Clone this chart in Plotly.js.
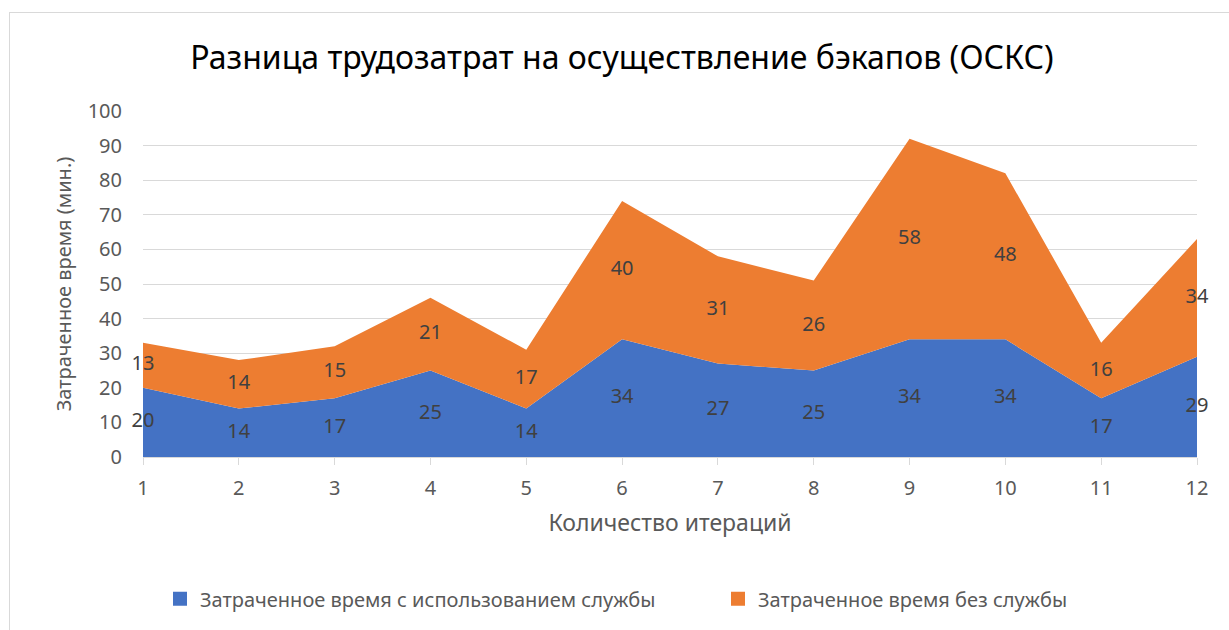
<!DOCTYPE html>
<html>
<head>
<meta charset="utf-8">
<script src="https://cdn.plot.ly/plotly-3.0.1.min.js"></script>
<style>
html,body{margin:0;padding:0;background:#fff;overflow:hidden;}
#chart{position:absolute;left:0;top:0;width:1229px;height:630px;}
#frame{position:absolute;left:9px;top:12px;width:1300px;height:700px;border:1px solid #d9d9d9;pointer-events:none;}
</style>
</head>
<body>
<div id="chart"></div>
<div id="frame"></div>
<script>
const iterations = [1,2,3,4,5,6,7,8,9,10,11,12];
const withService = [20,14,17,25,14,34,27,25,34,34,17,29];
const withoutService = [13,14,15,21,17,40,31,26,58,48,16,34];
const seriesNames = ['Затраченное время с использованием службы','Затраченное время без службы'];
const colors = ['#4472C4','#ED7D31'];

const F = 'Noto Sans, Open Sans, sans-serif';

const midA = withService.map(v => v/2);
const midB = withService.map((v,i) => v + withoutService[i]/2);

const traces = [
  {x: iterations, y: withService, name: seriesNames[0], type:'scatter', mode:'lines', stackgroup:'one',
   line:{width:0, color:colors[0]}, fillcolor:colors[0], hoverinfo:'y', showlegend:false},
  {x: iterations, y: withoutService, name: seriesNames[1], type:'scatter', mode:'lines', stackgroup:'one',
   line:{width:0, color:colors[1]}, fillcolor:colors[1], hoverinfo:'y', showlegend:false},
  {x: iterations, y: midA, text: withService.map(String), type:'scatter', mode:'text', showlegend:false,
   textfont:{family:F, size:20, color:'#404040'}, textposition:'middle center', hoverinfo:'skip', cliponaxis:false},
  {x: iterations, y: midB, text: withoutService.map(String), type:'scatter', mode:'text', showlegend:false,
   textfont:{family:F, size:20, color:'#404040'}, textposition:'middle center', hoverinfo:'skip', cliponaxis:false},
  {x:[null], y:[null], name: seriesNames[0], type:'scatter', mode:'markers', legend:'legend',
   marker:{symbol:'square', size:14, color:colors[0]}, showlegend:true},
  {x:[null], y:[null], name: seriesNames[1], type:'scatter', mode:'markers', legend:'legend2',
   marker:{symbol:'square', size:14, color:colors[1]}, showlegend:true}
];

const legendBase = {orientation:'h', xanchor:'left', y:-0.41, yanchor:'middle',
  font:{family:F, size:20, color:'#595959'}, bgcolor:'rgba(0,0,0,0)'};

const layout = {
  width:1229, height:630,
  margin:{l:143, r:32, t:111, b:173},
  paper_bgcolor:'#fff', plot_bgcolor:'#fff',
  font:{family:F, color:'#595959'},
  title:{text:'Разница трудозатрат на осуществление бэкапов (ОСКС)', font:{family:F, size:32, color:'#000'},
    x:0.506, xref:'container', xanchor:'center', y:0.908, yref:'container', yanchor:'middle'},
  xaxis:{range:[1,12], tickvals:iterations, ticktext:iterations.map(String), showgrid:false, zeroline:false,
    showline:true, linecolor:'#d9d9d9', linewidth:1, ticks:'outside', ticklen:7, tickcolor:'#d9d9d9',
    tickfont:{family:F, size:20, color:'#595959'}, ticklabelstandoff:6,
    title:{text:'Количество итераций', font:{family:F, size:23, color:'#595959'}, standoff:14}},
  yaxis:{range:[0,100], dtick:10, tick0:0, showgrid:true, gridcolor:'#d9d9d9', zeroline:false, showline:false,
    ticks:'', tickfont:{family:F, size:20, color:'#595959'}, ticklabelstandoff:20,
    title:{text:'Затраченное время (мин.)', font:{family:F, size:20, color:'#595959'}, standoff:10}},
  legend: Object.assign({}, legendBase, {x:(160-143)/1054}),
  legend2: Object.assign({}, legendBase, {x:(718-143)/1054}),
  showlegend:true
};

Plotly.newPlot('chart', traces, layout, {displayModeBar:false, staticPlot:true});
</script>
</body>
</html>
